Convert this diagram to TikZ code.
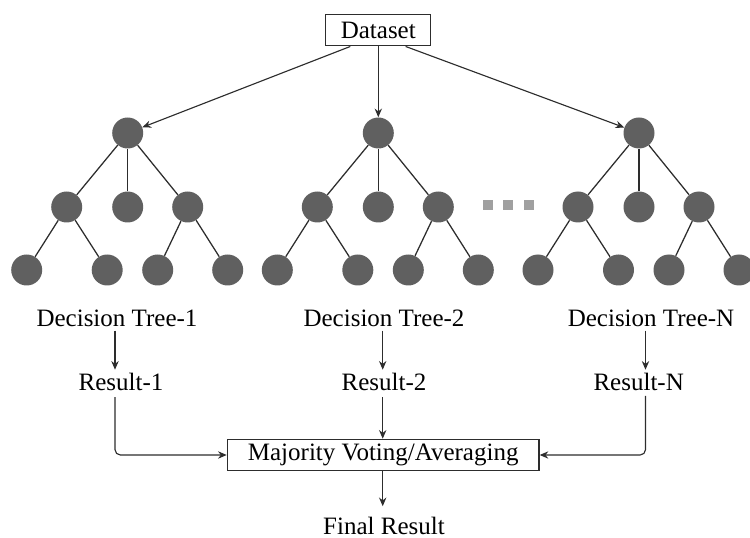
\documentclass[tikz,border=0pt]{standalone}
\usepackage{fontspec}
\setmainfont{Liberation Serif}
\usetikzlibrary{arrows.meta,calc}
\definecolor{nodegray}{RGB}{96,96,96}
\definecolor{dotgray}{RGB}{160,160,160}
\definecolor{linegray}{RGB}{45,45,45}
\begin{document}
\begin{tikzpicture}[x=0.75pt,y=-0.75pt,
  txt/.style={font=\fontsize{18.75}{22}\selectfont},
  lbl/.style={txt, inner sep=0pt, anchor=base},
  boxn/.style={txt, draw=linegray, line width=0.9pt, inner sep=0pt},
  tn/.style={circle, fill=nodegray, minimum size=23.25pt, inner sep=0pt},
  edge/.style={draw=linegray, line width=0.95pt},
  arr/.style={draw=linegray, line width=0.85pt, -{Stealth[length=6.5pt,width=5.5pt]}},
  dotbox/.style={fill=dotgray, minimum size=7.5pt, inner sep=0pt}
]
\useasboundingbox (0,0) rectangle (750,538);

% trees
\foreach \i/\x in {1/127.7,2/378.3,3/639}{
  \node[tn] (t\i r) at (\x,133) {};
  \node[tn] (t\i a) at (\x-61,207) {};
  \node[tn] (t\i b) at (\x,207) {};
  \node[tn] (t\i c) at (\x+60,207) {};
  \node[tn] (t\i l1) at (\x-101,270) {};
  \node[tn] (t\i l2) at (\x-20.5,270) {};
  \node[tn] (t\i l3) at (\x+30,270) {};
  \node[tn] (t\i l4) at (\x+100,270) {};
  \draw[edge] (t\i r) -- (t\i a);
  \draw[edge] (t\i r) -- (t\i b);
  \draw[edge] (t\i r) -- (t\i c);
  \draw[edge] (t\i a) -- (t\i l1);
  \draw[edge] (t\i a) -- (t\i l2);
  \draw[edge] (t\i c) -- (t\i l3);
  \draw[edge] (t\i c) -- (t\i l4);
}

% ellipsis squares
\node[dotbox] (sq1) at (488.3,205.3) {};
\node[dotbox] (sq2) at (508.3,205.3) {};
\node[dotbox] (sq3) at (528.7,205.3) {};

% dataset
\node[boxn, minimum width=78.75pt, minimum height=23.8pt] (ds) at (378.3,30) {Dataset};
\draw[arr] ([xshift=-21pt]ds.south) -- (t1r);
\draw[arr] (ds.south) -- (t2r);
\draw[arr] ([xshift=20.5pt]ds.south) -- (t3r);

% columns
\coordinate (c1) at (115,0);
\coordinate (c2) at (382.7,0);
\coordinate (c3) at (645.5,0);

% labels
\node[lbl] (dt1) at (117,326.7) {Decision Tree-1};
\node[lbl] (dt2) at (384,326.7) {Decision Tree-2};
\node[lbl] (dt3) at (651,326.7) {Decision Tree-N};
\node[lbl] (r1) at (121,390) {Result-1};
\node[lbl] (r2) at (384,390) {Result-2};
\node[lbl] (r3) at (638.7,390) {Result-N};

\node[boxn, minimum width=233.8pt, minimum height=23.5pt] (mv) at (383.2,455) {Majority Voting/Averaging};
\node[lbl] (fr) at (384,534.5) {Final Result};

\draw[arr, shorten <=2.5pt, shorten >=2pt] (dt1.south -| c1) -- (r1.north -| c1);
\draw[arr, shorten <=2.5pt, shorten >=2pt] (dt2.south -| c2) -- (r2.north -| c2);
\draw[arr, shorten <=2.5pt, shorten >=2pt] (dt3.south -| c3) -- (r3.north -| c3);

\draw[arr, rounded corners=4pt, shorten <=5pt] (r1.south -| c1) |- (mv.west);
\draw[arr, shorten <=5pt] (r2.south -| c2) -- (mv.north -| c2);
\draw[arr, rounded corners=4pt, shorten <=4pt] (r3.south -| c3) |- (mv.east);
\draw[arr, shorten >=8pt] (mv.south -| c2) -- (fr.north -| c2);
\end{tikzpicture}
\end{document}
